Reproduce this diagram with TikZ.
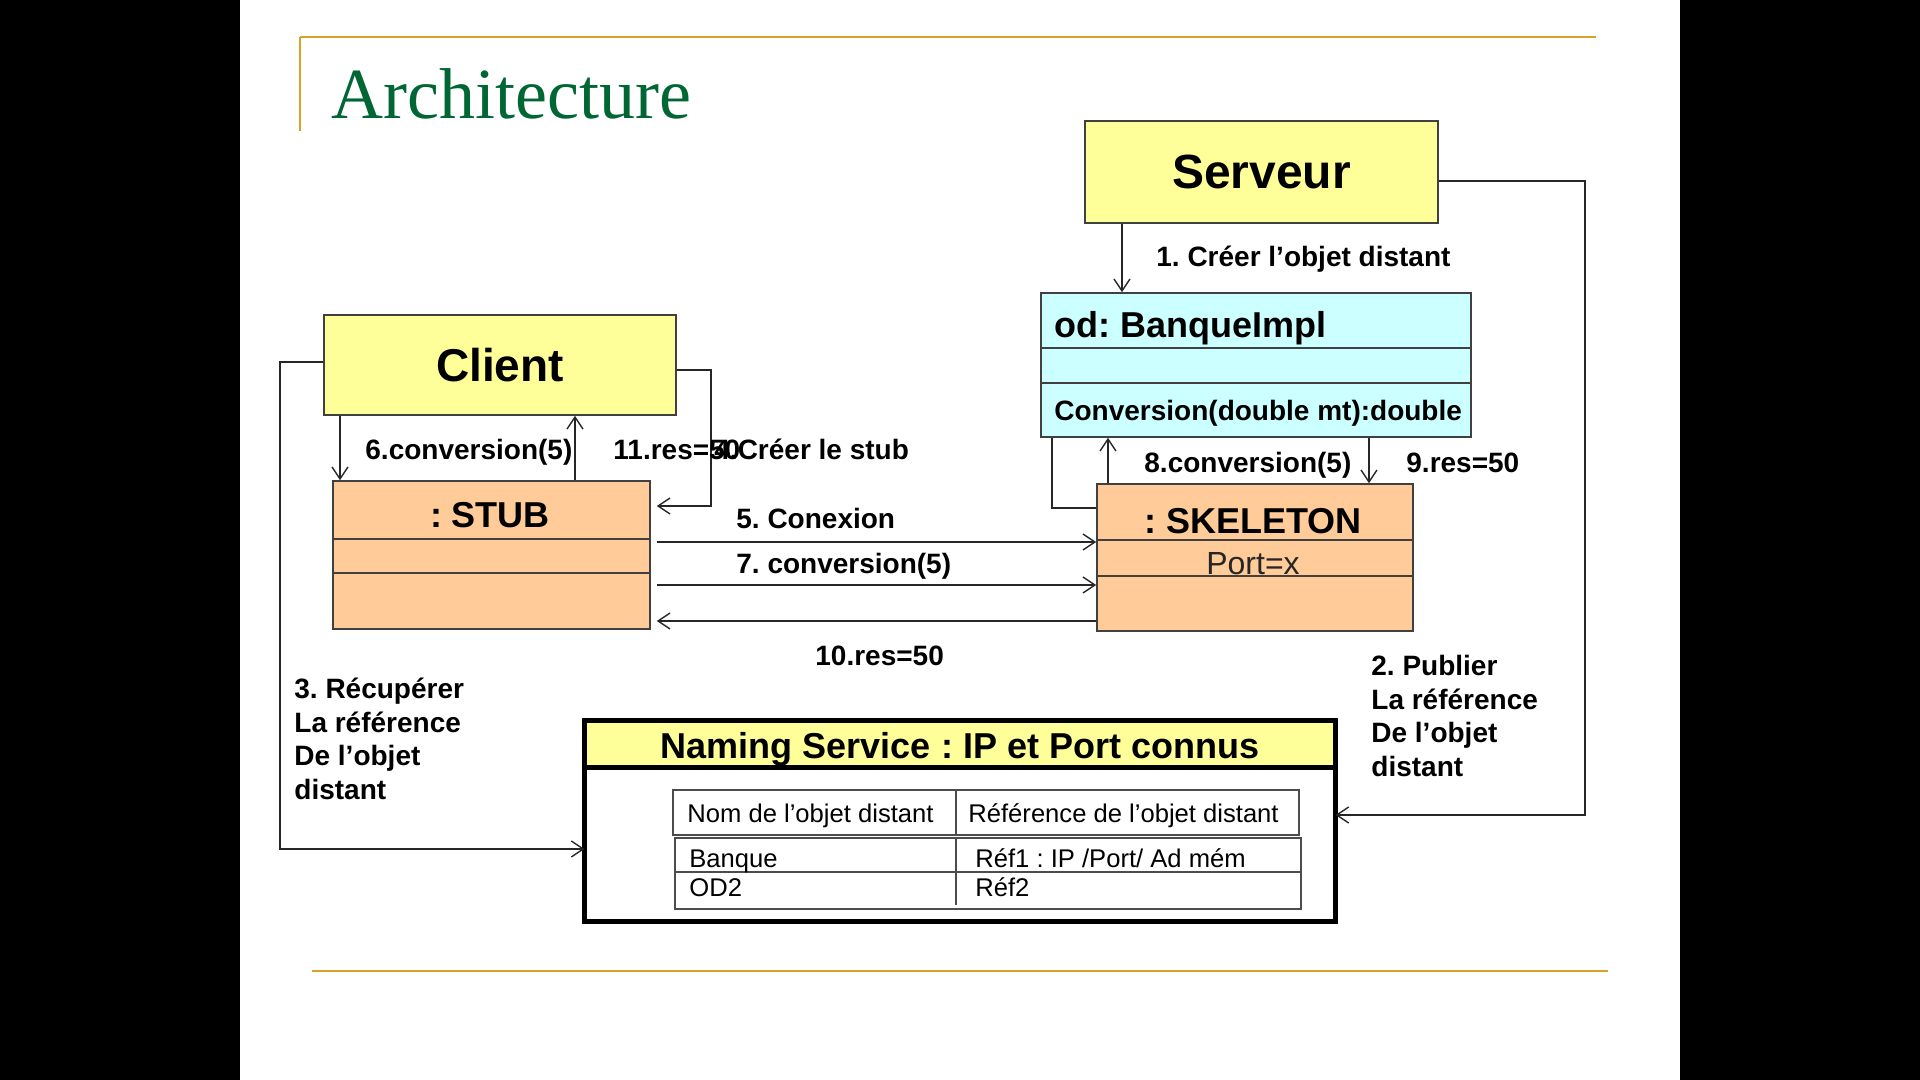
\documentclass[tikz,border=0pt]{standalone}
\usepackage{fontspec}
\setmainfont{Liberation Sans}
\newfontfamily\titlefont{Liberation Serif}
\usetikzlibrary{arrows.meta,fit}
\definecolor{boxyellow}{HTML}{FFFF99}
\definecolor{boxcyan}{HTML}{CCFFFF}
\definecolor{boxorange}{HTML}{FFCC99}
\definecolor{gold}{RGB}{214,164,40}
\definecolor{titlegreen}{RGB}{0,102,51}
\frenchspacing
\begin{document}
\begin{tikzpicture}[x=0.5pt,y=-0.5pt,
  box/.style={draw=black!75, line width=0.8pt, inner sep=0pt},
  sep/.style={draw=black!75, line width=0.8pt},
  conn/.style={line width=0.7pt, draw=black!85},
  arr/.style={conn, -{Straight Barb[length=6pt,width=8pt]}},
  lbl/.style={anchor=base west, inner sep=0pt, font=\bfseries\fontsize{14}{16.85}\selectfont},
  mlbl/.style={anchor=west, inner sep=0pt, align=left, font=\bfseries\fontsize{14}{16.85}\selectfont},
  cell/.style={anchor=base west, inner sep=0pt, font=\fontsize{12.8}{14}\selectfont},
  tline/.style={draw=black!70, line width=0.6pt},
]
\useasboundingbox (0,0) rectangle (1920,1080);
\fill[black] (0,0) rectangle (240,1080);
\fill[black] (1680,0) rectangle (1920,1080);
\fill[white] (240,0) rectangle (1680,1080);
% slide decoration
\draw[gold, line width=1.3pt] (300,37) -- (1596,37);
\draw[gold, line width=1.3pt] (300,37) -- (300,131);
\draw[gold, line width=1.3pt] (312,971) -- (1608,971);
\node[anchor=base west, inner sep=0pt, text=titlegreen, font=\titlefont\fontsize{36}{36}\selectfont] (title) at (331,119) {Architecture};

% boxes
\node[box, fill=boxyellow, fit={(1085,121) (1438,223)}] (serveur) {};
\node[inner sep=0pt, font=\bfseries\fontsize{24}{28}\selectfont] (serveurt) at (serveur.center) {Serveur};
\node[box, fill=boxyellow, fit={(324,315) (676,415)}] (client) {};
\node[inner sep=0pt, font=\bfseries\fontsize{23}{27}\selectfont] (clientt) at (client.center) {Client};

\node[box, fill=boxcyan, fit={(1041,293) (1471,437)}] (banque) {};
\coordinate (bd1) at (0,348);
\coordinate (bd2) at (0,383);
\draw[sep] (banque.west |- bd1) -- (banque.east |- bd1);
\draw[sep] (banque.west |- bd2) -- (banque.east |- bd2);
\node[anchor=base west, inner sep=0pt, font=\bfseries\fontsize{18}{20}\selectfont] (banquet) at (1054,337) {od: BanqueImpl};
\node[anchor=base west, inner sep=0pt, font=\bfseries\fontsize{14}{16}\selectfont] (banquem) at (1054,420) {Conversion(double mt):double};

\node[box, fill=boxorange, fit={(333,481) (650,629)}] (stub) {};
\coordinate (sd1) at (0,539);
\coordinate (sd2) at (0,573);
\draw[sep] (stub.west |- sd1) -- (stub.east |- sd1);
\draw[sep] (stub.west |- sd2) -- (stub.east |- sd2);
\node[anchor=base, inner sep=0pt, font=\bfseries\fontsize{18}{20}\selectfont] (stubt) at (490,527) {: STUB};

\node[box, fill=boxorange, fit={(1097,484) (1413,631)}] (skel) {};
\coordinate (kd1) at (0,540);
\coordinate (kd2) at (0,576);
\draw[sep] (skel.west |- kd1) -- (skel.east |- kd1);
\draw[sep] (skel.west |- kd2) -- (skel.east |- kd2);
\node[anchor=base, inner sep=0pt, font=\bfseries\fontsize{18}{20}\selectfont] (skelt) at (1253,533) {: SKELETON};
\node[anchor=base, inner sep=0pt, text=black!85, font=\fontsize{16}{18}\selectfont] (port) at (1253,574) {Port=x};

% naming service
\node[inner sep=0pt, fit={(585,721) (1335,921)}] (naming) {};
\coordinate (nh) at (0,767);
\fill[boxyellow] (naming.north west) rectangle (naming.east |- nh);
\draw[line width=2.5pt] (naming.west |- nh) -- (naming.east |- nh);
\draw[line width=2.5pt] (naming.north west) rectangle (naming.south east);
\node[anchor=base, inner sep=0pt, font=\bfseries\fontsize{18}{20}\selectfont] (namingt) at (960,758) {Naming Service : IP et Port connus};

\node[tline, inner sep=0pt, fit={(673,790) (1299,835)}] (thead) {};
\node[tline, inner sep=0pt, fit={(675,838) (1301,909)}] (tbody) {};
\draw[tline] (956,790) -- (956,835);
\draw[tline] (956,838) -- (956,905);
\draw[tline] (675,872) -- (1301,872);
\node[cell] (c11) at (687,822) {Nom de l’objet distant};
\node[cell] (c12) at (968,822) {Référence de l’objet distant};
\node[cell] (c21) at (689,867) {Banque};
\node[cell] (c22) at (975,867) {Réf1 : IP /Port/ Ad mém};
\node[cell] (c31) at (689,896) {OD2};
\node[cell] (c32) at (975,896) {Réf2};

% connector coordinates
\coordinate (x1) at (1122,0);
\coordinate (r2) at (1585,181);
\coordinate (e2) at (1585,815);
\coordinate (l3) at (280,362);
\coordinate (b3) at (280,849);
\coordinate (r4) at (711,370);
\coordinate (b4) at (711,506);
\coordinate (x6) at (340,0);
\coordinate (x11) at (575,0);
\coordinate (y5) at (0,542);
\coordinate (y7) at (0,585);
\coordinate (y10) at (0,621);
\coordinate (x8) at (1108,0);
\coordinate (x9) at (1369,0);
\coordinate (x0) at (1052,508);

% connectors
\draw[arr] (serveur.south -| x1) -- (banque.north -| x1);
\draw[arr] (serveur.east |- r2) -- (r2) -- (e2) -- (naming.east |- e2);
\draw[arr] (client.west |- l3) -- (l3) -- (b3) -- (naming.west |- b3);
\draw[arr, shorten >=3pt] (client.east |- r4) -- (r4) -- (b4) -- (stub.east |- b4);
\draw[arr] (client.south -| x6) -- (stub.north -| x6);
\draw[arr] (stub.north -| x11) -- (client.south -| x11);
\draw[arr, shorten <=3pt] (stub.east |- y5) -- (skel.west |- y5);
\draw[arr, shorten <=3pt] (stub.east |- y7) -- (skel.west |- y7);
\draw[arr, shorten >=3pt] (skel.west |- y10) -- (stub.east |- y10);
\draw[arr] (skel.north -| x8) -- (banque.south -| x8);
\draw[arr] (banque.south -| x9) -- (skel.north -| x9);
\draw[conn] (banque.south -| x0) -- (x0) -- (skel.west |- x0);

% labels
\node[lbl] (l1) at (1156,267) {1. Créer l’objet distant};
\node[mlbl] (l2) at (1371,716) {2. Publier\\La référence\\De l’objet\\distant};
\node[mlbl] (l3t) at (294,739) {3. Récupérer\\La référence\\De l’objet\\distant};
\node[lbl] (l6) at (365,459) {6.conversion(5)};
\node[lbl] (l11) at (613,459) {11.res=50};
\node[lbl] (l4) at (714,459) {4.Créer le stub};
\node[lbl] (l5) at (736,528) {5. Conexion};
\node[lbl] (l7) at (736,573) {7. conversion(5)};
\node[lbl] (l10) at (815,665) {10.res=50};
\node[lbl] (l8) at (1144,472) {8.conversion(5)};
\node[lbl] (l9) at (1406,472) {9.res=50};
\end{tikzpicture}
\end{document}
